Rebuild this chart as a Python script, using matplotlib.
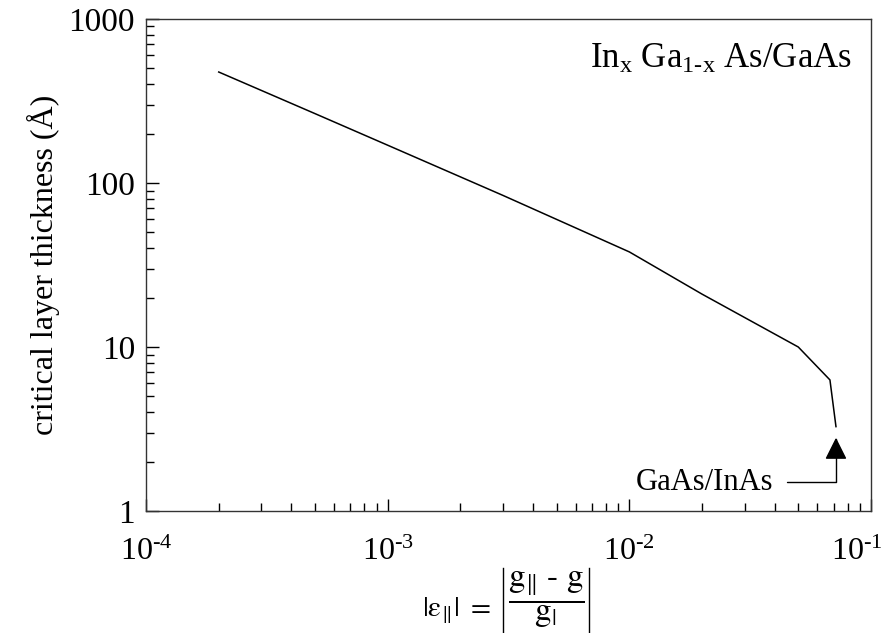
import matplotlib
matplotlib.use("Agg")
import matplotlib.pyplot as plt
from matplotlib.lines import Line2D
from matplotlib.transforms import ScaledTranslation
from matplotlib.ticker import FixedLocator, LogLocator, NullFormatter

plt.rcParams["font.family"] = ["Liberation Serif", "DejaVu Serif"]
plt.rcParams["mathtext.fontset"] = "custom"
plt.rcParams["mathtext.rm"] = "Liberation Serif"
plt.rcParams["mathtext.it"] = "Liberation Serif:italic"
plt.rcParams["mathtext.bf"] = "Liberation Serif:bold"
plt.rcParams["mathtext.fallback"] = "stix"

# Critical layer thickness vs. in-plane strain
strain = [2e-4, 5e-4, 1e-3, 3e-3, 1e-2, 2e-2, 0.05, 0.0676, 0.0716]
thickness = [475, 265, 170, 84, 38, 21, 10, 6.3, 3.27]

# GaAs/InAs marker
inas_strain = 0.0716
inas_arrow_tip = 2.8

x_ticks = [1e-4, 1e-3, 1e-2, 1e-1]
x_tick_labels = [r"$10^{\text{-4}}$", r"$10^{\text{-3}}$", r"$10^{\text{-2}}$", r"$10^{\text{-1}}$"]
y_ticks = [1, 10, 100, 1000]
y_tick_labels = ["1", "10", "100", "1000"]

fig = plt.figure(figsize=(8.88, 6.33), dpi=100)
ax = fig.add_axes([0.1644, 0.1927, 0.8165, 0.7773])

ax.plot(strain, thickness, color="black", lw=1.1)

ax.set_xscale("log")
ax.set_yscale("log")
ax.set_xlim(1e-4, 1e-1)
ax.set_ylim(1, 1000)

ax.xaxis.set_major_locator(FixedLocator(x_ticks))
ax.set_xticklabels(x_tick_labels)
ax.yaxis.set_major_locator(FixedLocator(y_ticks))
ax.set_yticklabels(y_tick_labels)
for axis in (ax.xaxis, ax.yaxis):
    axis.set_minor_locator(LogLocator(base=10, subs=range(2, 10), numticks=20))
    axis.set_minor_formatter(NullFormatter())

ax.tick_params(which="both", direction="in", top=False, right=False, color="black", width=1.0)
ax.tick_params(which="major", length=9)
ax.tick_params(which="minor", length=5.5)
ax.tick_params(axis="x", which="major", labelsize=23, pad=19)
ax.tick_params(axis="y", which="major", labelsize=24, pad=8)
for sp in ax.spines.values():
    sp.set_color("#333333")
    sp.set_linewidth(1.0)

# keep the rightmost decade label inside the figure
last = ax.get_xticklabels()[-1]
last.set_transform(last.get_transform() + ScaledTranslation(-10 / 72, 0, fig.dpi_scale_trans))

ax.set_ylabel("critical layer thickness (Å)", fontsize=23, labelpad=6)

# x-axis label: |eps_par| = | (g_par - g) / g_perp |
lhs = fig.text(491 / 888, 1 - 611 / 633, r"$\mathrm{|ε_{\Vert}|\ =}$", ha="right", va="center",
               fontsize=21, math_fontfamily="stix")
frac = fig.text(546 / 888, 1 - 600 / 633, r"$\mathrm{\dfrac{g_{\Vert}\ \text{-}\ g}{g_{|}}}$",
                ha="center", va="center", fontsize=24, math_fontfamily="stix")
fig.canvas.draw()
bb = frac.get_window_extent().transformed(fig.transFigure.inverted())
pad_x = 5 / 888
for xb in (bb.x0 - pad_x, bb.x1 + pad_x):
    fig.add_artist(Line2D([xb, xb], [bb.y0 - 3 / 633, bb.y1 + 2 / 633],
                          transform=fig.transFigure, color="black", lw=1.0))

ax.text(0.973, 0.9, r"In$_{\mathrm{x}}$ Ga$_{\text{1-x}}$ As/GaAs", transform=ax.transAxes,
        ha="right", va="baseline", fontsize=25)

ax.annotate("GaAs/InAs", xy=(inas_strain, inas_arrow_tip), xytext=(0.0395, 1.5),
            textcoords="data", ha="right", va="center", fontsize=22,
            arrowprops=dict(arrowstyle="-|>,head_length=0.68,head_width=0.34",
                            connectionstyle="angle,angleA=0,angleB=90,rad=0",
                            color="black", lw=1.0, mutation_scale=20,
                            relpos=(1.0, 0.5), shrinkA=8, shrinkB=0))

fig.savefig("out.png", dpi=100)
